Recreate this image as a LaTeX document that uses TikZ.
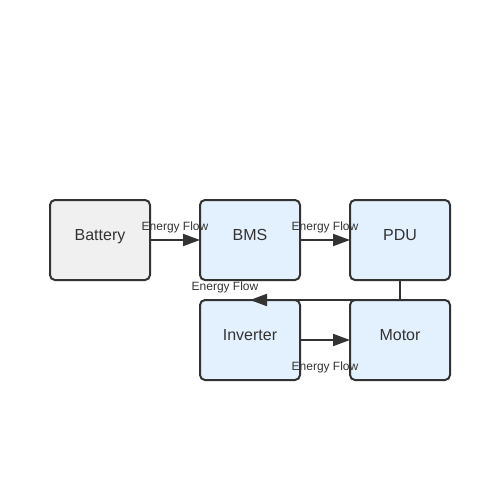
\documentclass[tikz,border=0pt]{standalone}
\usepackage{fontspec}
\setmainfont{Liberation Sans}
\usetikzlibrary{arrows.meta}
\definecolor{edgecol}{HTML}{333333}
\definecolor{grayfill}{HTML}{F0F0F0}
\definecolor{bluefill}{HTML}{E3F0FD}
\tikzset{
  box/.style={draw=edgecol, line width=2pt, rounded corners=5pt, minimum width=100pt, minimum height=80pt, inner sep=0pt, outer sep=0pt, text=edgecol, font=\fontsize{16pt}{18pt}\selectfont},
  flow/.style={draw=edgecol, line width=2pt, -{Triangle[length=17pt,width=12pt]}},
  flowlabel/.style={text=edgecol, font=\fontsize{12pt}{14pt}\selectfont, inner sep=0pt},
}
\begin{document}
\begin{tikzpicture}[x=1pt,y=-1pt]
\useasboundingbox (0,0) rectangle (500,500);
\node[box, fill=grayfill] (bat) at (100,240) {\raisebox{11pt}{Battery}};
\node[box, fill=bluefill] (bms) at (250,240) {\raisebox{11pt}{BMS}};
\node[box, fill=bluefill] (pdu) at (400,240) {\raisebox{11pt}{PDU}};
\node[box, fill=bluefill] (inv) at (250,340) {\raisebox{11pt}{Inverter}};
\node[box, fill=bluefill] (mot) at (400,340) {\raisebox{11pt}{Motor}};
\draw[flow] (bat.east) -- (bms.west) node[flowlabel, midway, yshift=13pt] {Energy Flow};
\draw[flow] (bms.east) -- (pdu.west) node[flowlabel, midway, yshift=13pt] {Energy Flow};
\draw[flow] (pdu.south) |- (inv.north) node[flowlabel, pos=1, xshift=-25pt, yshift=13pt] {Energy Flow};
\draw[flow] (inv.east) -- (mot.west) node[flowlabel, midway, yshift=-27pt] {Energy Flow};
\end{tikzpicture}
\end{document}
